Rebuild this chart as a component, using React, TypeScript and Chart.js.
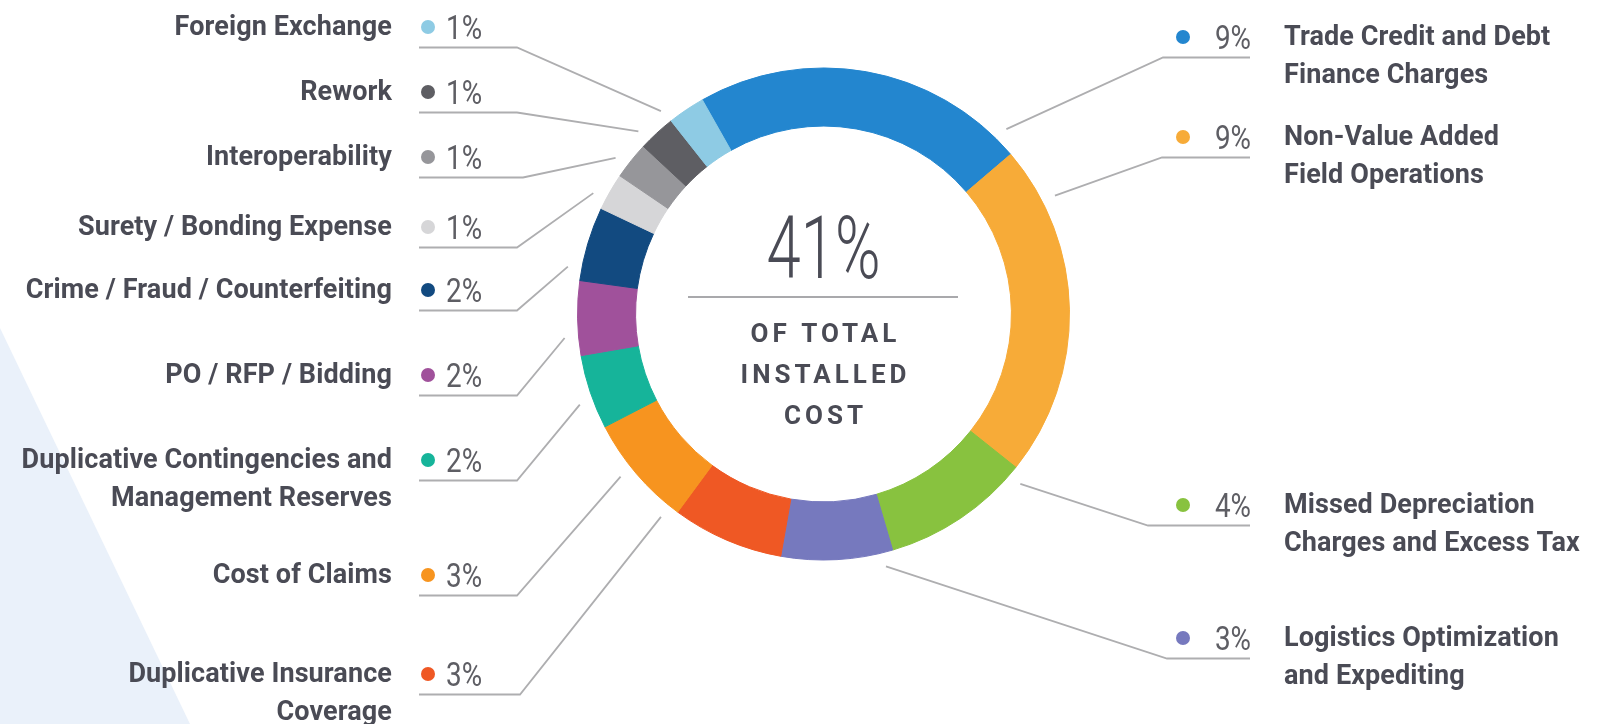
import React, { useEffect, useRef } from "react";
import { Chart, registerables } from "chart.js";

Chart.register(...registerables);

// ---------- data ----------
const categories: string[][] = [
  ["Trade Credit and Debt", "Finance Charges"],
  ["Non-Value Added", "Field Operations"],
  ["Missed Depreciation", "Charges and Excess Tax"],
  ["Logistics Optimization", "and Expediting"],
  ["Duplicative Insurance", "Coverage"],
  ["Cost of Claims"],
  ["Duplicative Contingencies and", "Management Reserves"],
  ["PO / RFP / Bidding"],
  ["Crime / Fraud / Counterfeiting"],
  ["Surety / Bonding Expense"],
  ["Interoperability"],
  ["Rework"],
  ["Foreign Exchange"],
];
const values: number[] = [9, 9, 4, 3, 3, 3, 2, 2, 2, 1, 1, 1, 1];
const centerCaption: string[] = ["OF TOTAL", "INSTALLED", "COST"];

// ---------- styles ----------
const colors: string[] = [
  "#2386CF",
  "#F7AB38",
  "#88C23F",
  "#7679BE",
  "#EF5824",
  "#F7941F",
  "#16B49A",
  "#A0519B",
  "#124A80",
  "#D6D6D8",
  "#96969A",
  "#5E5E63",
  "#8ECBE4",
];

// ---------- label layout (annotation placement, not data) ----------
type Side = "left" | "right";
const labelSide: Side[] = ["right", "right", "right", "right", "left", "left", "left", "left", "left", "left", "left", "left", "left"];
const labelDotY: number[] = [37, 137, 505, 638, 674, 575, 460, 375, 290, 227, 157, 92, 27];
const leaderAngle: number[] = [44.7, 62.9, 130.8, 166.1, -141.3, -128.7, -110.4, -95.3, -79.5, -62.3, -53.1, -45.4, -38.7];
const leaderBendX: number[] = [1163, 1162, 1148, 1167, 520, 517, 517, 517, 517, 517, 523, 517, 517];

const W = 1604;
const H = 724;
const TEXT = "#4A4B55";
const PCT = "#5E5E64";
const LINE = "#AEAEB0";

export default function App() {
  const ref = useRef<HTMLCanvasElement | null>(null);

  useEffect(() => {
    const canvas = ref.current;
    if (!canvas) return;

    const annot = {
      id: "annot",
      beforeDraw(chart: any) {
        const ctx = chart.ctx as CanvasRenderingContext2D;
        ctx.save();
        ctx.fillStyle = "#ffffff";
        ctx.fillRect(0, 0, W, H);
        ctx.fillStyle = "#EAF1FA";
        ctx.beginPath();
        ctx.moveTo(0, 328);
        ctx.lineTo(190, H);
        ctx.lineTo(0, H);
        ctx.closePath();
        ctx.fill();
        ctx.restore();
      },
      afterDraw(chart: any) {
        const ctx = chart.ctx as CanvasRenderingContext2D;
        const meta = chart.getDatasetMeta(0);
        const arc0 = meta.data[0];
        const cx = arc0.x;
        const cy = arc0.y;
        const outerR = arc0.outerRadius;

        ctx.save();
        // leader lines + labels
        for (let i = 0; i < values.length; i++) {
          const side = labelSide[i];
          const dy = labelDotY[i];
          const uy = dy + 20.5;
          const a = (leaderAngle[i] * Math.PI) / 180;
          const ar = outerR + 14;
          const ax = cx + ar * Math.sin(a);
          const ay = cy - ar * Math.cos(a);

          ctx.strokeStyle = LINE;
          ctx.lineWidth = 1.8;
          ctx.beginPath();
          if (side === "left") {
            ctx.moveTo(419, uy);
            ctx.lineTo(leaderBendX[i], uy);
          } else {
            ctx.moveTo(1250, uy);
            ctx.lineTo(leaderBendX[i], uy);
          }
          ctx.lineTo(ax, ay);
          ctx.stroke();

          // dot
          const dotX = side === "left" ? 428 : 1183;
          ctx.fillStyle = colors[i];
          ctx.beginPath();
          ctx.arc(dotX, dy, 7, 0, Math.PI * 2);
          ctx.fill();

          // percent (condensed)
          const pct = `${values[i]}%`;
          ctx.fillStyle = PCT;
          ctx.font = "400 34px Roboto";
          ctx.textBaseline = "alphabetic";
          ctx.save();
          const sx = 0.82;
          if (side === "left") {
            ctx.translate(446, dy + 12);
            ctx.scale(sx, 1);
            ctx.textAlign = "left";
          } else {
            ctx.translate(1251, dy + 12);
            ctx.scale(sx, 1);
            ctx.textAlign = "right";
          }
          ctx.fillText(pct, 0, 0);
          ctx.restore();

          // category name
          ctx.fillStyle = TEXT;
          ctx.font = "bold 27px Roboto";
          (ctx as any).letterSpacing = "0.1px";
          ctx.textBaseline = "middle";
          const lines = categories[i];
          for (let k = 0; k < lines.length; k++) {
            const ty = dy + 1 + k * 38;
            if (side === "left") {
              ctx.textAlign = "right";
              ctx.fillText(lines[k], 392, ty);
            } else {
              ctx.textAlign = "left";
              ctx.fillText(lines[k], 1284, ty);
            }
          }
          (ctx as any).letterSpacing = "0px";
        }

        // center text
        const total = values.reduce((s, v) => s + v, 0);
        ctx.fillStyle = TEXT;
        ctx.font = "300 88px Roboto";
        ctx.textAlign = "center";
        ctx.textBaseline = "alphabetic";
        ctx.save();
        ctx.translate(cx, 278);
        ctx.scale(0.7, 1);
        ctx.fillText(`${total}%`, 0, 0);
        ctx.restore();

        ctx.strokeStyle = "#A9A9AC";
        ctx.lineWidth = 2;
        ctx.beginPath();
        ctx.moveTo(688, 297);
        ctx.lineTo(958, 297);
        ctx.stroke();

        ctx.font = "bold 26px Roboto";
        (ctx as any).letterSpacing = "4px";
        ctx.textBaseline = "middle";
        ctx.textAlign = "center";
        for (let k = 0; k < centerCaption.length; k++) {
          ctx.fillText(centerCaption[k], cx + 2, 335 + k * 41);
        }
        (ctx as any).letterSpacing = "0px";
        ctx.restore();
      },
    };

    const chart = new Chart(canvas, {
      type: "doughnut",
      data: {
        labels: categories.map((l) => l.join(" ")),
        datasets: [
          {
            data: values,
            backgroundColor: colors,
            borderColor: colors,
            borderWidth: 1,
            hoverOffset: 0,
          },
        ],
      },
      options: {
        responsive: false,
        animation: false,
        rotation: -29.5,
        radius: 246,
        cutout: "76.4%",
        layout: { padding: { left: 43, right: 0, top: 0, bottom: 96 } },
        events: [],
        plugins: {
          legend: { display: false },
          tooltip: { enabled: false },
        },
      },
      plugins: [annot],
    });
    return () => chart.destroy();
  }, []);

  return (
    <div style={{ position: "fixed", left: 0, top: 0, width: W, height: H, background: "#fff" }}>
      <canvas ref={ref} width={W} height={H} style={{ width: W, height: H, display: "block" }} />
    </div>
  );
}
